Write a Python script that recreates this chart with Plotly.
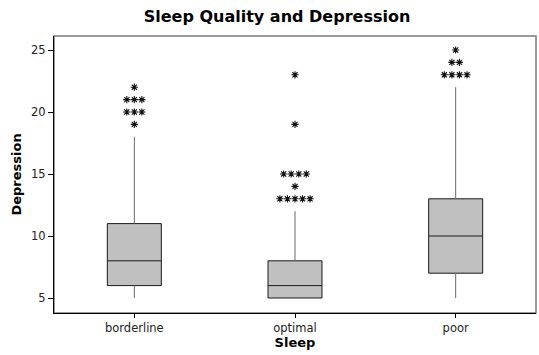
import plotly.graph_objects as go

# Sleep categories and box summary statistics for Depression scores
categories = ["borderline", "optimal", "poor"]
q1 = [6, 5, 7]
median = [8, 6, 10]
q3 = [11, 8, 13]
whisker_low = [5, 5, 5]
whisker_high = [18, 12, 22]

# Outlying observations per category
outliers = {
    "borderline": [19, 20, 20, 20, 21, 21, 21, 22],
    "optimal": [13, 13, 13, 13, 13, 14, 15, 15, 15, 15, 19, 23],
    "poor": [23, 23, 23, 23, 24, 24, 25],
}

y_ticks = [5, 10, 15, 20, 25]

FONT = "DejaVu Sans"
BOX_W = 0.336
STAR_DX = 0.047

fig = go.Figure()

xs = list(range(len(categories)))

# whiskers
for i in xs:
    for lo, hi in ((whisker_low[i], q1[i]), (q3[i], whisker_high[i])):
        fig.add_trace(go.Scatter(
            x=[i, i], y=[lo, hi], mode="lines",
            line=dict(color="#6a6a6a", width=1),
            hoverinfo="skip", showlegend=False,
        ))

# boxes (interquartile range + median)
fig.add_trace(go.Box(
    x=xs, q1=q1, median=median, q3=q3,
    lowerfence=q1, upperfence=q3,
    width=BOX_W, fillcolor="#c0c0c0",
    line=dict(color="#1a1a1a", width=1),
    whiskerwidth=0, boxpoints=False, showlegend=False,
))

# outliers: tied values are stacked side by side
ox, oy = [], []
for i, cat in enumerate(categories):
    vals = outliers[cat]
    for v in sorted(set(vals)):
        n = vals.count(v)
        for k in range(n):
            ox.append(i + (k - (n - 1) / 2) * STAR_DX)
            oy.append(v)
fig.add_trace(go.Scatter(
    x=ox, y=oy, mode="markers",
    marker=dict(symbol="asterisk-open", size=6, color="#111111",
                line=dict(color="#111111", width=1.1)),
    showlegend=False, hoverinfo="skip",
))

# gray frame around the data region
fig.add_shape(type="rect", xref="paper", yref="paper", x0=0, y0=0, x1=1, y1=1,
              line=dict(color="#7a7a7a", width=1.5), layer="below")

fig.update_layout(
    width=539, height=355,
    margin=dict(l=54, r=3, t=36, b=42),
    paper_bgcolor="white", plot_bgcolor="white",
    font=dict(family=FONT, size=11.5, color="#222222"),
    title=dict(text="<b>Sleep Quality and Depression</b>",
               x=277 / 539, xanchor="center", y=1 - 16 / 355, yanchor="middle",
               font=dict(family=FONT, size=16, color="black")),
    xaxis=dict(
        range=[-0.5, 2.5], tickmode="array", tickvals=xs, ticktext=categories,
        showgrid=False, zeroline=False,
        showline=True, linecolor="black", linewidth=1,
        ticks="outside", ticklen=4, tickcolor="black",
        title=dict(text="<b>Sleep</b>", font=dict(family=FONT, size=13, color="black"),
                   standoff=2),
    ),
    yaxis=dict(
        range=[3.79, 26.13], tickmode="array", tickvals=y_ticks,
        showgrid=False, zeroline=False,
        showline=True, linecolor="black", linewidth=1,
        ticks="outside", ticklen=5, tickcolor="black",
        title=dict(text="<b>Depression</b>", font=dict(family=FONT, size=13, color="black"),
                   standoff=6),
    ),
)

fig.write_html("out.html")
